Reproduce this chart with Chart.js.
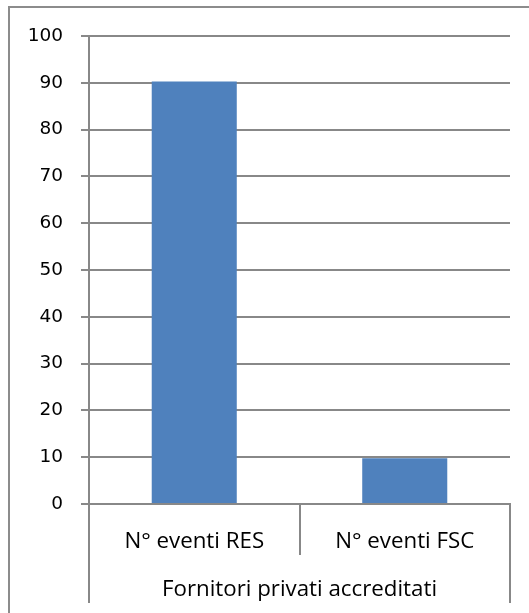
<!DOCTYPE html>
<html>
<head>
<meta charset="utf-8">
<script src="https://cdn.jsdelivr.net/npm/chart.js@4"></script>
<style>
    html, body { margin: 0; padding: 0; background: #fff; }
    #wrap { position: relative; width: 529px; height: 613px; }
    #frame { position: absolute; left: 8px; top: 6px; right: 0; bottom: 0; border-top: 2px solid #8c8c8c; border-left: 2px solid #8c8c8c; }
    canvas { position: absolute; left: 0; top: 0; }
</style>
</head>
<body>
<div id="wrap">
    <div id="frame"></div>
    <canvas id="chart" width="529" height="613"></canvas>
</div>
<script>
// --- DATA ---
const categories = ['N° eventi RES', 'N° eventi FSC'];
const groupLabels = ['Fornitori privati accreditati'];
const eventCounts = [90.3, 9.8];
const yTicks = { min: 0, max: 100, step: 10 };

// --- STYLE ---
const GRID_COLOR = '#888888';
const BAR_COLOR = '#4f81bd';
const LABEL_FONT = { family: 'Open Sans', size: 22.3 };

const ctx = document.getElementById('chart');

new Chart(ctx, {
    type: 'bar',
    data: {
        labels: categories,
        datasets: [{
            data: eventCounts,
            backgroundColor: BAR_COLOR,
            categoryPercentage: 1,
            barPercentage: 0.404
        }]
    },
    options: {
        responsive: false,
        animation: false,
        layout: { padding: { left: 10, top: 36, right: 19, bottom: 10 } },
        plugins: {
            legend: { display: false },
            tooltip: { enabled: false }
        },
        scales: {
            x: {
                type: 'category',
                offset: true,
                grid: { offset: true, drawOnChartArea: false, drawTicks: true, tickLength: 51, color: GRID_COLOR, lineWidth: 2 },
                border: { display: true, color: GRID_COLOR, width: 2 },
                ticks: { color: '#000', padding: -27, font: LABEL_FONT, maxRotation: 0, autoSkip: false },
                afterFit: (scale) => { scale.height = 51; }
            },
            x2: {
                type: 'category',
                position: 'bottom',
                labels: groupLabels,
                offset: true,
                grid: { offset: true, drawOnChartArea: false, drawTicks: true, tickLength: 48, color: GRID_COLOR, lineWidth: 2 },
                border: { display: false },
                ticks: { color: '#000', padding: -27, font: LABEL_FONT, maxRotation: 0 },
                afterFit: (scale) => { scale.height = 48; }
            },
            y: {
                min: yTicks.min,
                max: yTicks.max,
                grid: { color: GRID_COLOR, lineWidth: 2, tickLength: 8 },
                border: { display: true, color: GRID_COLOR, width: 2 },
                ticks: { stepSize: yTicks.step, color: '#000', padding: 18, font: { family: 'DejaVu Sans', size: 18.5 } },
                afterFit: (scale) => { scale.width = 79; }
            }
        }
    }
});
</script>
</body>
</html>
